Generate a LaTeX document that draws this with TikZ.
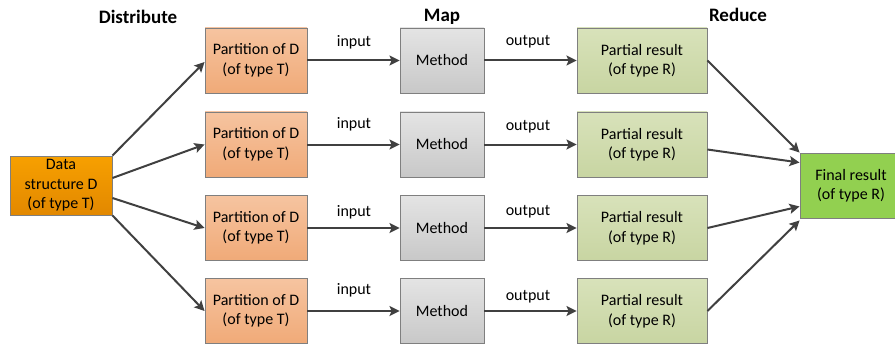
\documentclass[tikz,border=0pt]{standalone}
\usepackage{fontspec}
\setmainfont{Carlito}
\usetikzlibrary{arrows.meta}
\definecolor{arr}{HTML}{404040}
\definecolor{bord}{HTML}{7F7F7F}
\definecolor{partT}{RGB}{246,196,160}
\definecolor{partB}{RGB}{240,170,120}
\definecolor{methT}{RGB}{228,228,228}
\definecolor{methB}{RGB}{200,200,200}
\definecolor{resT}{RGB}{216,226,186}
\definecolor{resB}{RGB}{200,213,162}
\definecolor{dataT}{RGB}{247,160,0}
\definecolor{dataB}{RGB}{226,136,0}
\definecolor{finC}{RGB}{146,208,80}
\tikzset{
  box/.style={draw=bord, line width=0.9pt, inner sep=0pt, align=center, font=\fontsize{16}{19.5}\selectfont},
  partbox/.style={box, minimum width=102pt, minimum height=65pt, top color=partT, bottom color=partB},
  methbox/.style={box, minimum width=84pt, minimum height=65pt, top color=methT, bottom color=methB},
  resbox/.style={box, minimum width=130pt, minimum height=65pt, top color=resT, bottom color=resB},
  databox/.style={box, minimum width=102pt, minimum height=59pt, top color=dataT, bottom color=dataB},
  finalbox/.style={box, minimum width=102pt, minimum height=65pt, fill=finC},
  conn/.style={draw=arr, line width=2pt, -{Stealth[length=10pt,width=10pt,inset=2pt]}},
  lbl/.style={font=\fontsize{16}{19}\selectfont, inner sep=0pt},
  ttl/.style={font=\fontsize{19}{22}\selectfont\bfseries, inner sep=0pt}
}
\begin{document}
\begin{tikzpicture}[x=1pt,y=-1pt]
\useasboundingbox (0,0) rectangle (895,345);
\node[ttl] (tdist) at (138,17) {Distribute};
\node[ttl] (tmap) at (442,17) {Map};
\node[ttl] (tred) at (738,15) {Reduce};
\node[databox] (data) at (61,185.5) {Data\\structure D\\(of type T)};
\node[finalbox] (final) at (851,185.5) {Final result\\(of type R)};
\foreach \i/\y/\yi/\yo in {1/60.5/42/42, 2/144.5/124/127, 3/228/212/212, 4/311/290/297}{
  \node[partbox] (p\i) at (256,\y) {Partition of D\\(of type T)};
  \node[methbox] (m\i) at (442,\y) {Method};
  \node[resbox] (r\i) at (642,\y) {Partial result\\(of type R)};
  \node[lbl] (in\i) at (354,\yi) {input};
  \node[lbl] (out\i) at (528,\yo) {output};
  \draw[conn] (p\i) -- (m\i);
  \draw[conn] (m\i) -- (r\i);
}
\draw[conn] (data.north east) -- ([yshift=-1.5pt]p1.west);
\draw[conn] ([yshift=7.5pt]data.east) -- (p2.west);
\draw[conn] ([yshift=-12.5pt]data.east) -- (p3.west);
\draw[conn] (data.south east) -- (p4.west);
\draw[conn] (r1.east) -- (final.north west);
\draw[conn] ([yshift=-5pt]r2.east) -- ([yshift=-10pt]final.north west);
\draw[conn] (r3.east) -- ([yshift=12pt]final.south west);
\draw[conn] (r4.east) -- ([yshift=-2pt]final.south west);
\end{tikzpicture}
\end{document}
